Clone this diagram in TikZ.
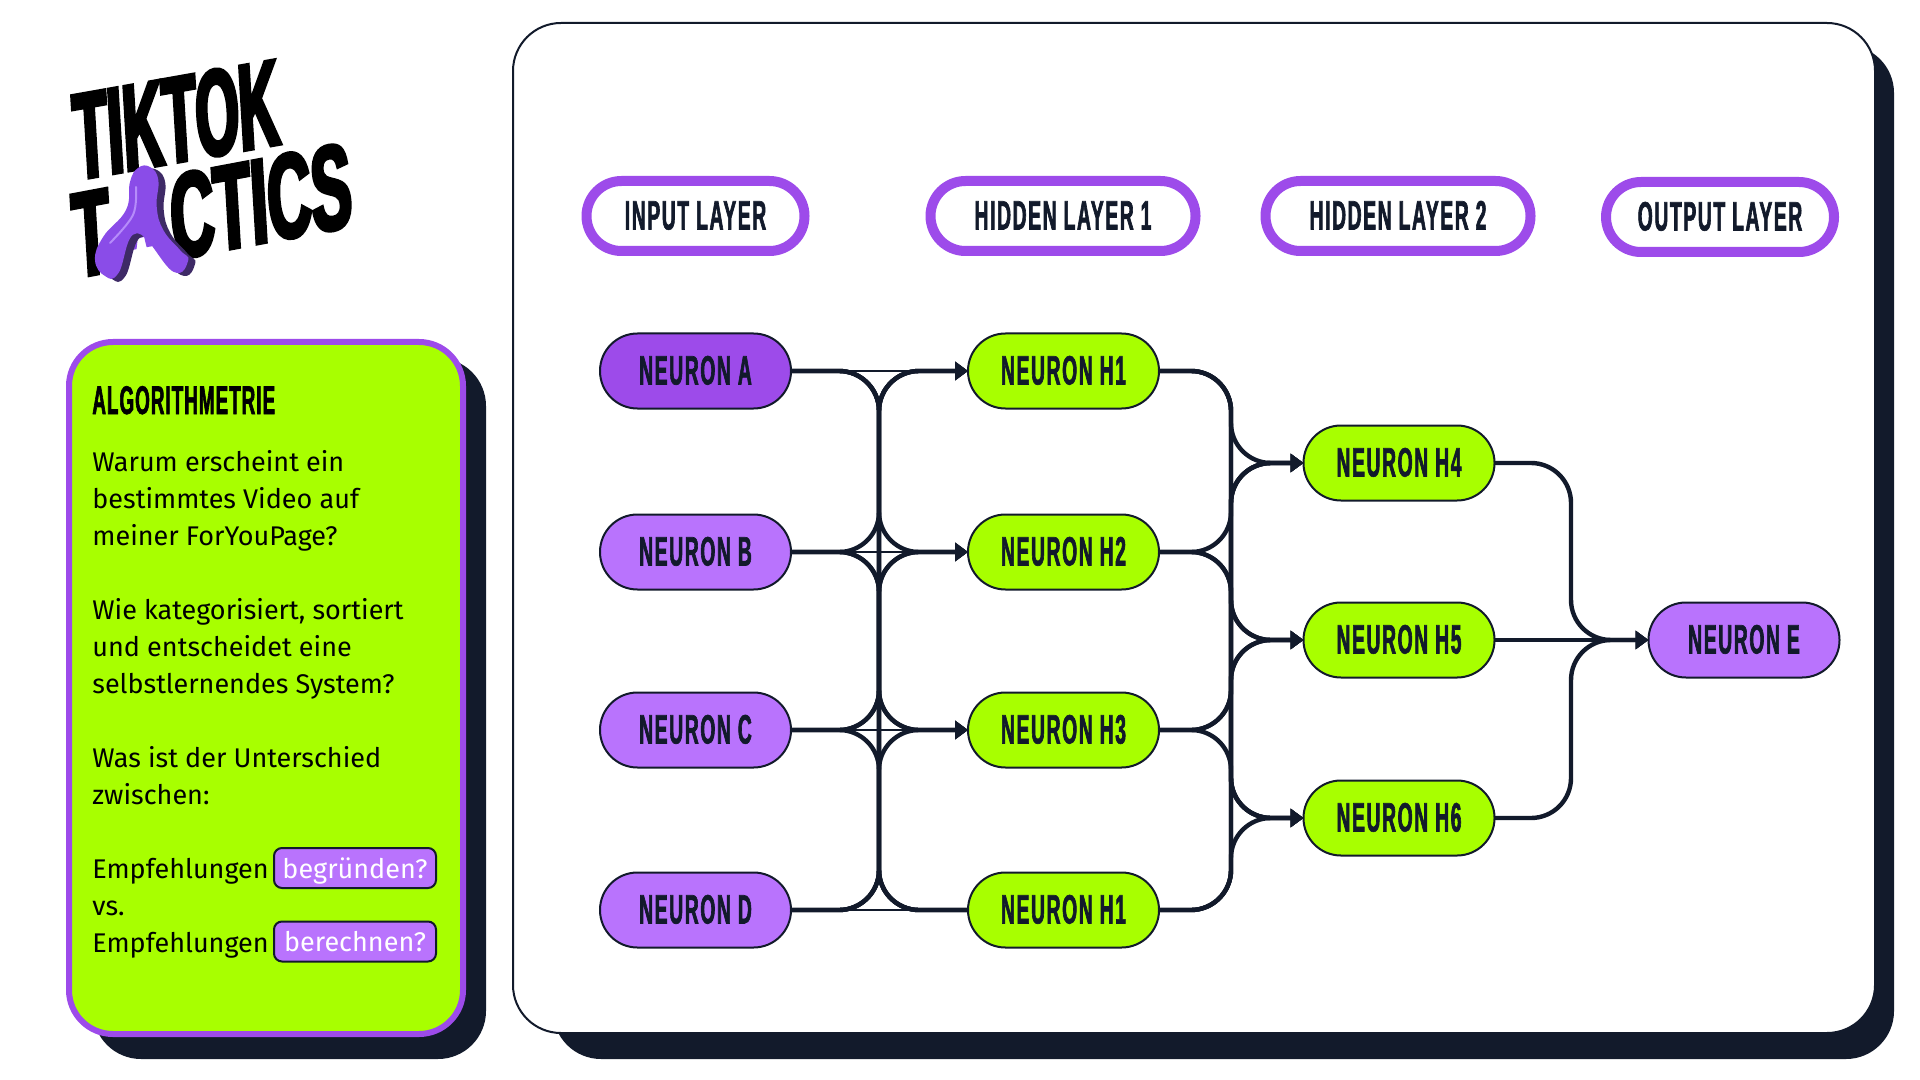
\documentclass[tikz,border=0pt]{standalone}
\usepackage{fontspec}
\setmainfont{Fira Sans}
\newfontfamily\cond[FakeStretch=.47,FakeBold=1.5,LetterSpace=4]{Liberation Sans}
\newfontfamily\condh[FakeStretch=.47,FakeBold=1.5,LetterSpace=2.6]{Liberation Sans}
\newfontfamily\logoa[FakeStretch=.46,FakeBold=3]{Liberation Sans}
\newfontfamily\logob[FakeStretch=.51,FakeBold=3]{Liberation Sans}
\usetikzlibrary{arrows.meta,calc}
\definecolor{navy}{HTML}{121A2B}
\definecolor{lime}{HTML}{A8FF00}
\definecolor{purp}{HTML}{9D4BEA}
\definecolor{lilac}{HTML}{B973FD}
\definecolor{blob}{HTML}{8A4CE8}
\definecolor{blobd}{HTML}{3E2A66}
\definecolor{blobl}{HTML}{B68CFA}
\tikzset{
  x=0.5pt,y=-0.5pt,
  neuron/.style={draw=navy,line width=1pt,rounded corners=18.7pt,minimum width=95.5pt,minimum height=37.5pt,inner sep=0pt,outer sep=0pt,text=navy,text height=13.5pt,text depth=0pt,font=\cond\bfseries\fontsize{20.5}{24}\selectfont},
  layerpill/.style={draw=purp,fill=white,line width=5pt,rounded corners=17.5pt,minimum height=35pt,inner sep=0pt,outer sep=0pt,text=navy,text height=13.5pt,text depth=0pt,font=\cond\bfseries\fontsize{20.5}{24}\selectfont},
  conn/.style={draw=navy,line width=2.2pt,rounded corners=20pt},
  thru/.style={draw=navy,line width=1.4pt},
  tip/.style={-{Triangle[length=6.5pt,width=9pt]}},
  tagbox/.style={draw=navy,fill=lilac,line width=1pt,rounded corners=4pt,inner sep=0pt,outer sep=0pt,text=white,text height=11pt,text depth=1pt,font=\fontsize{13.5}{16}\selectfont},
}
\begin{document}
\begin{tikzpicture}
\useasboundingbox (0,0) rectangle (1920,1080);
% panels
\fill[navy,rounded corners=24pt] (553,45) rectangle (1894,1059);
\draw[navy,fill=white,line width=1pt,rounded corners=24pt] (513,23) rectangle (1875,1033);
\fill[navy,rounded corners=24pt] (93,358) rectangle (486,1059);
\draw[purp,fill=lime,line width=3pt,rounded corners=22pt] (69,342) rectangle (463,1034);
% logo
\begin{scope}[shift={(76,180)},cm={.985,.174,-.06,1,(0,0)},transform shape]
\node[anchor=base west,inner sep=0pt,text=black,font=\logoa\bfseries\fontsize{61}{60}\selectfont] (logoa) at (0,0) {TIKTOK};
\end{scope}
\begin{scope}[shift={(75,278)},cm={.983,.185,-.06,1,(0,0)},transform shape]
\node[anchor=base west,inner sep=0pt,text=black,font=\logob\bfseries\fontsize{60}{60}\selectfont] (logob) at (0,0) {T\makebox[31pt]{\raisebox{9pt}{\scalebox{.5}{\textcolor{blob}{A}}}}CTICS};
\end{scope}
% blob
\fill[blobd,shift={(7,3)}] plot[smooth cycle,tension=.75] coordinates {(150,167) (138,168) (130,182) (126,210) (103.3,236.7) (95,260) (105,276) (118.3,273.3) (136.7,233.3) (173.3,271.7) (188.3,260) (180,250) (163.3,230) (156.7,206.7) (158.3,180)};
\fill[blob] plot[smooth cycle,tension=.75] coordinates {(150,167) (138,168) (130,182) (126,210) (103.3,236.7) (95,260) (105,276) (118.3,273.3) (136.7,233.3) (173.3,271.7) (188.3,260) (180,250) (163.3,230) (156.7,206.7) (158.3,180)};
\draw[blobl,line width=1pt,line cap=round] plot[smooth,tension=.6] coordinates {(136,187) (133,215) (110,243)};
% text panel
\node[anchor=base west,inner sep=0pt,text=black,font=\condh\bfseries\fontsize{20}{24}\selectfont] (head) at (92,414) {ALGORITHMETRIE};
\node[anchor=north west,inner sep=0pt,align=left,text=black,font=\fontsize{13.5}{18.5}\selectfont] (body) at (92,450) {Warum erscheint ein\\bestimmtes Video auf\\meiner ForYouPage?\\~\\Wie kategorisiert, sortiert\\und entscheidet eine\\selbstlernendes System?\\~\\Was ist der Unterschied\\zwischen:\\~\\Empfehlungen\\vs.\\Empfehlungen};
\node[tagbox,minimum width=81pt,minimum height=20pt] (tagA) at (355,868) {begründen?};
\node[tagbox,minimum width=81pt,minimum height=20pt] (tagB) at (355,941.5) {berechnen?};
% layer labels
\node[layerpill,minimum width=109pt] (L1) at (695.5,216) {INPUT LAYER};
\node[layerpill,minimum width=132.5pt] (L2) at (1063,216) {HIDDEN LAYER 1};
\node[layerpill,minimum width=132.5pt] (L3) at (1398,216) {HIDDEN LAYER 2};
\node[layerpill,minimum width=114pt] (L4) at (1720,217) {OUTPUT LAYER};
% neurons
\node[neuron,fill=purp] (A) at (695.5,371) {NEURON A};
\node[neuron,fill=lilac] (B) at (695.5,552) {NEURON B};
\node[neuron,fill=lilac] (C) at (695.5,730) {NEURON C};
\node[neuron,fill=lilac] (D) at (695.5,910) {NEURON D};
\node[neuron,fill=lime] (H1) at (1063.5,371) {NEURON H1};
\node[neuron,fill=lime] (H2) at (1063.5,552) {NEURON H2};
\node[neuron,fill=lime] (H3) at (1063.5,730) {NEURON H3};
\node[neuron,fill=lime] (H7) at (1063.5,910) {NEURON H1};
\node[neuron,fill=lime] (H4) at (1399,463) {NEURON H4};
\node[neuron,fill=lime] (H5) at (1399,640) {NEURON H5};
\node[neuron,fill=lime] (H6) at (1399,818) {NEURON H6};
\node[neuron,fill=lilac] (E) at (1744,640) {NEURON E};
\coordinate (t1) at (879,0);
\coordinate (t2) at (1231,0);
\coordinate (t3) at (1571,0);
% connectors
\foreach \s/\t in {A/H2,A/H3,B/H1,B/H3,C/H1,C/H2,D/H1,D/H2,D/H3}
  \draw[conn,tip] (\s.east) -| (t1|-\t.west) -- (\t.west);
\foreach \s in {A,B,C}
  \draw[conn] (\s.east) -| (t1|-H7.west) -- (H7.west);
\draw[thru,tip] (A.east) -- (H1.west);
\draw[thru,tip] (B.east) -- (H2.west);
\draw[thru,tip] (C.east) -- (H3.west);
\draw[thru] (D.east) -- (H7.west);
\foreach \s in {H1,H2,H3,H7}
  \foreach \t in {H4,H5,H6}
    \draw[conn,tip] (\s.east) -| (t2|-\t.west) -- (\t.west);
\draw[conn,tip] (H4.east) -| (t3|-E.west) -- (E.west);
\draw[conn,tip] (H6.east) -| (t3|-E.west) -- (E.west);
\draw[thru,line width=1.8pt,tip] (H5.east) -- (E.west);
\end{tikzpicture}
\end{document}
